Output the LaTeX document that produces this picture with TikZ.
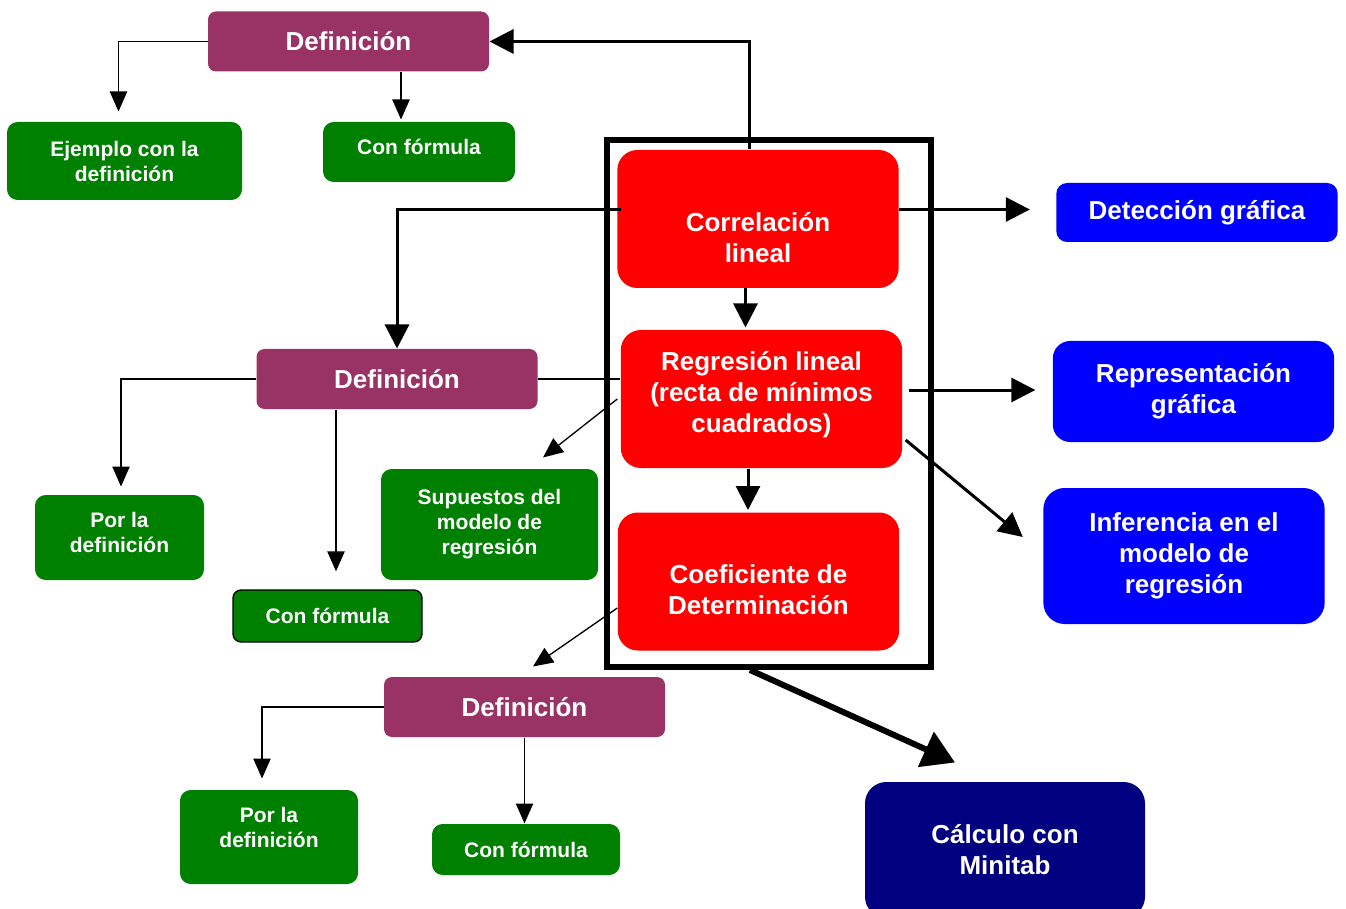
\documentclass[tikz,border=0pt]{standalone}
\usepackage{fontspec}
\setmainfont{Liberation Sans}
\usetikzlibrary{arrows.meta,calc}

\definecolor{morado}{RGB}{153,51,102}
\definecolor{verde}{RGB}{0,128,0}
\definecolor{marino}{RGB}{0,0,128}

\newcommand\letragrande{\fontsize{19.5}{23.25}\selectfont\bfseries}
\newcommand\letrachica{\fontsize{15.75}{18.75}\selectfont\bfseries}

\tikzset{every picture/.style={line width=0.75pt}}
\tikzset{
  caja/.style={inner sep=0pt, align=center, text=white},
  rotulo/.style={inner sep=0pt, align=center, text=white},
  cajadef/.style={caja, fill=morado, rounded corners=6pt, minimum width=210.75pt, minimum height=45pt, font=\letragrande},
  cajaverde/.style={caja, fill=verde, rounded corners=8pt, font=\letrachica},
  cajaroja/.style={caja, fill=red, rounded corners=15pt, minimum width=211pt, minimum height=103.5pt, font=\letragrande},
  cajaazul/.style={caja, fill=blue, rounded corners=#1, minimum width=211pt, font=\letragrande},
  marco/.style={draw=black, line width=4.5pt, inner sep=0pt},
  fino/.style={draw=black, line width=1pt, -{Triangle[length=15pt,width=13pt]}},
  grueso/.style={draw=black, line width=2.25pt, -{Triangle[length=18pt,width=18pt]}},
  enorme/.style={draw=black, line width=4.5pt, -{Triangle[length=24pt,width=28pt]}}
}

\begin{document}
\begin{tikzpicture}[x=0.75pt,y=0.75pt,yscale=-1,xscale=1]
\useasboundingbox (0,0) rectangle (1346,909);

% marco central
\node[marco, minimum width=243pt, minimum height=395.25pt] (marco) at (769,403.5) {};

% cajas rojas
\node[cajaroja, label={[rotulo, font=\letragrande, yshift=-14pt]center:{Correlación\\lineal}}] (corr) at (758,219) {};
\node[cajaroja, label={[rotulo, font=\letragrande, yshift=3pt]center:{Regresión lineal\\(recta de mínimos\\cuadrados)}}] (reg) at (761.5,399) {};
\node[cajaroja, label={[rotulo, font=\letragrande, yshift=-6pt]center:{Coeficiente de\\Determinación}}] (coef) at (758.5,581.5) {};

% cajas azules
\node[cajaazul=8pt, minimum height=44.25pt] (det) at (1197,212.5) {Detección gráfica};
\node[cajaazul=13pt, minimum height=75.75pt] (rep) at (1193.5,391.5) {Representación\\gráfica};
\node[cajaazul=16pt, minimum height=102pt] (inf) at (1184,556) {Inferencia en el\\modelo de\\regresión};
\node[cajaazul=16pt, fill=marino, minimum width=210pt, minimum height=102pt] (minitab) at (1005,850) {Cálculo con\\Minitab};

% definiciones
\node[cajadef] (def1) at (348.5,41.5) {Definición};
\node[cajadef] (def2) at (397,379) {Definición};
\node[cajadef] (def3) at (524.5,707) {Definición};

% cajas verdes
\node[cajaverde, minimum width=176.25pt, minimum height=58.5pt] (ej1) at (124.5,161) {Ejemplo con la\\definición};
\node[cajaverde, minimum width=144pt, minimum height=45pt, label={[rotulo, font=\letrachica, yshift=3.75pt]center:Con fórmula}] (form1) at (419,152) {};
\node[cajaverde, minimum width=126.75pt, minimum height=63.75pt, label={[rotulo, font=\letrachica, yshift=3.75pt]center:{Por la\\definición}}] (por2) at (119.5,537.5) {};
\node[cajaverde, draw=black, line width=1pt, rounded corners=6pt, minimum width=141.75pt, minimum height=39pt] (form2) at (327.5,616) {Con fórmula};
\node[cajaverde, minimum width=162.75pt, minimum height=83.25pt] (sup) at (489.5,524.5) {Supuestos del\\modelo de\\regresión};
\node[cajaverde, minimum width=133.5pt, minimum height=70.5pt, label={[rotulo, font=\letrachica, yshift=7pt]center:{Por la\\definición}}] (por3) at (269,837) {};
\node[cajaverde, minimum width=141pt, minimum height=38.25pt] (form3) at (526,849.5) {Con fórmula};

% puntas libres
\coordinate (t1) at ($(ej1.north)+(-6,-10)$);
\coordinate (t3) at ($(form1.north)+(-18,-2)$);
\coordinate (t5) at ($(det.west)+(-26,-3)$);
\coordinate (t6) at ($(reg.north)+(-16,-2)$);
\coordinate (t7) at ($(coef.north)+(-10.5,-2)$);
\coordinate (t8) at ($(rep.west)+(-17,-1.5)$);
\coordinate (t12) at ($(por2.north)+(1.5,-8)$);
\coordinate (t13) at ($(form2.north)+(8.5,-18)$);
\coordinate (t16) at ($(por3.north)+(-7,-11)$);

% conectores gruesos
\draw[grueso] ($(corr.north)+(-9,0)$) |- (def1.east);
\draw[grueso] ($(corr.west)+(4,-9)$) -| (def2.north);
\draw[grueso] (corr.east |- t5) -- (t5);
\draw[grueso] (t6 |- corr.south) -- (t6);
\draw[grueso] (t7 |- reg.south) -- (t7);
\draw[grueso] ($(reg.east |- t8)+(6,0)$) -- (t8);
\draw[grueso] ($(reg.east)+(3,41)$) -- ($(inf.west)+(-20,-19)$);
\draw[enorme] ($(marco.south)+(-19,0)$) -- ($(minitab.north)+(-50,-19)$);

% conectores finos
\draw[fino] (def1.west) -| (t1);
\draw[fino] (def1.south -| t3) -- (t3);
\draw[fino, -] (def2.east) -- (def2.east -| reg.west);
\draw[fino] ($(reg.west)+(-3,0)$) -- ($(sup.north)+(53.5,-11)$);
\draw[fino] (def2.west) -| (t12);
\draw[fino] (def2.south -| t13) -- (t13);
\draw[fino] ($(coef.west)+(0,26.5)$) -- ($(def3.north)+(8.5,-10)$);
\draw[fino] (def3.west) -| (t16);
\draw[fino] (def3.south) -- (def3.south |- form3.north);

\end{tikzpicture}
\end{document}
